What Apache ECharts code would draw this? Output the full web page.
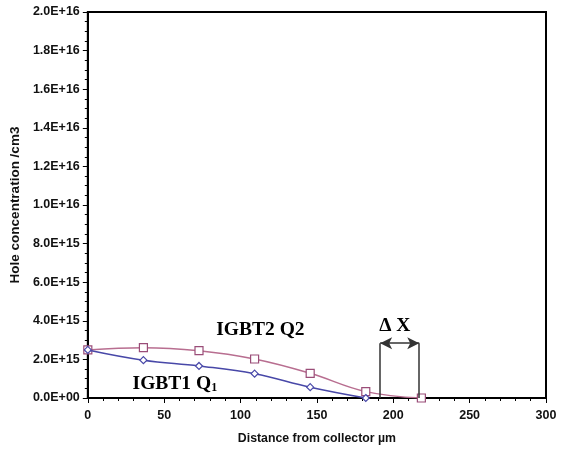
<!DOCTYPE html>
<html>
<head>
<meta charset="utf-8">
<script src="https://cdn.jsdelivr.net/npm/echarts@6/dist/echarts.min.js"></script>
<style>html,body{margin:0;padding:0;background:#fff}#c{width:572px;height:450px}</style>
</head>
<body>
<div id="c"></div>
<script>
// Data
var distance = [0, 36.4, 72.8, 109.2, 145.6, 182, 218.4];
var igbt2 = [2.49e15, 2.61e15, 2.45e15, 2.02e15, 1.28e15, 0.33e15, 0.0];
var igbt1 = [2.49e15, 1.96e15, 1.66e15, 1.26e15, 0.56e15, 0.0];
var deltaX = [191.4, 217];
var deltaY = 2.84e15;
var labels = [
  {x: 113, y: 3.5e15, text: 'IGBT2 Q2'},
  {x: 57, y: 0.72e15, text: 'IGBT1 Q{sub|1}'},
  {x: 201, y: 3.72e15, text: 'Δ X'}
];

function pairs(xs, ys){ return ys.map(function(v,i){ return [xs[i], v]; }); }
function sci(v){
  if (v === 0) return '0.0E+00';
  var s = v.toExponential(1).toUpperCase();
  var m = s.split('E');
  var e = parseInt(m[1], 10);
  var sign = e < 0 ? '-' : '+';
  var a = Math.abs(e);
  return m[0] + 'E' + sign + (a < 10 ? '0' + a : a);
}

var chart = echarts.init(document.getElementById('c'));
var axisFont = {fontFamily: 'Liberation Sans, Arial, sans-serif', fontWeight: 'bold', fontSize: 12.5, color: '#111'};
var serif = 'Liberation Serif, Times New Roman, serif';

chart.setOption({
  animation: false,
  backgroundColor: '#fff',
  grid: {left: 83, right: 26, top: 12, bottom: 52, show: true, borderColor: '#000', borderWidth: 2},
  xAxis: {
    type: 'value', min: 0, max: 300, interval: 50,
    name: 'Distance from collector µm', nameLocation: 'middle', nameGap: 35,
    nameTextStyle: {fontFamily: 'Liberation Sans, Arial, sans-serif', fontWeight: 'bold', fontSize: 12.3, color: '#111'},
    axisLine: {onZero: false, lineStyle: {color: '#000', width: 2}},
    axisTick: {length: 5, lineStyle: {color: '#000', width: 1}},
    minorTick: {show: true, splitNumber: 5, length: 3, lineStyle: {color: '#000'}},
    splitLine: {show: false},
    axisLabel: Object.assign({margin: 11}, axisFont)
  },
  yAxis: {
    type: 'value', min: 0, max: 2e16, interval: 2e15,
    name: 'Hole concentration /cm3', nameLocation: 'middle', nameGap: 58,
    nameTextStyle: {fontFamily: 'Liberation Sans, Arial, sans-serif', fontWeight: 'bold', fontSize: 13.5, color: '#111'},
    axisLine: {onZero: false, lineStyle: {color: '#000', width: 2}},
    axisTick: {length: 5, lineStyle: {color: '#000', width: 1}},
    minorTick: {show: true, splitNumber: 4, length: 3, lineStyle: {color: '#000'}},
    splitLine: {show: false},
    axisLabel: Object.assign({margin: 8, formatter: sci}, axisFont)
  },
  series: [
    {
      type: 'line', name: 'IGBT2 Q2', data: pairs(distance, igbt2), smooth: 0.4,
      symbol: 'rect', symbolSize: 8, showAllSymbol: true,
      lineStyle: {color: '#b86e90', width: 1.5},
      itemStyle: {color: '#fff', borderColor: '#9a4d78', borderWidth: 1.2},
      z: 3
    },
    {
      type: 'line', name: 'IGBT1 Q1', data: pairs(distance, igbt1), smooth: 0.4,
      symbol: 'diamond', symbolSize: 7, showAllSymbol: true,
      lineStyle: {color: '#4848a8', width: 1.5},
      itemStyle: {color: '#fff', borderColor: '#4848a8', borderWidth: 1.2},
      z: 4
    },
    {
      type: 'scatter', data: [], silent: true,
      markLine: {
        silent: true, animation: false,
        label: {show: false},
        data: [
          [{coord: [deltaX[0], 0], symbol: 'none'}, {coord: [deltaX[0], deltaY], symbol: 'none'}],
          [{coord: [deltaX[1], 0], symbol: 'none'}, {coord: [deltaX[1], deltaY], symbol: 'none'}],
          [{coord: [deltaX[0], deltaY], symbol: 'arrow'}, {coord: [deltaX[1], deltaY], symbol: 'arrow'}]
        ],
        symbolSize: [9, 12],
        lineStyle: {color: '#333', width: 1.5, type: 'solid'}
      },
      markPoint: {
        silent: true, animation: false, symbol: 'circle', symbolSize: 0,
        label: {
          show: true, position: 'inside',
          formatter: function(p){ return p.data.value; },
          fontFamily: serif, fontWeight: 'bold', fontSize: 19.5, color: '#000',
          rich: {sub: {fontFamily: serif, fontWeight: 'bold', fontSize: 12, color: '#000', verticalAlign: 'bottom', padding: [8, 0, 0, 0]}}
        },
        data: labels.map(function(l){ return {coord: [l.x, l.y], value: l.text}; })
      }
    }
  ]
});
</script>
</body>
</html>
